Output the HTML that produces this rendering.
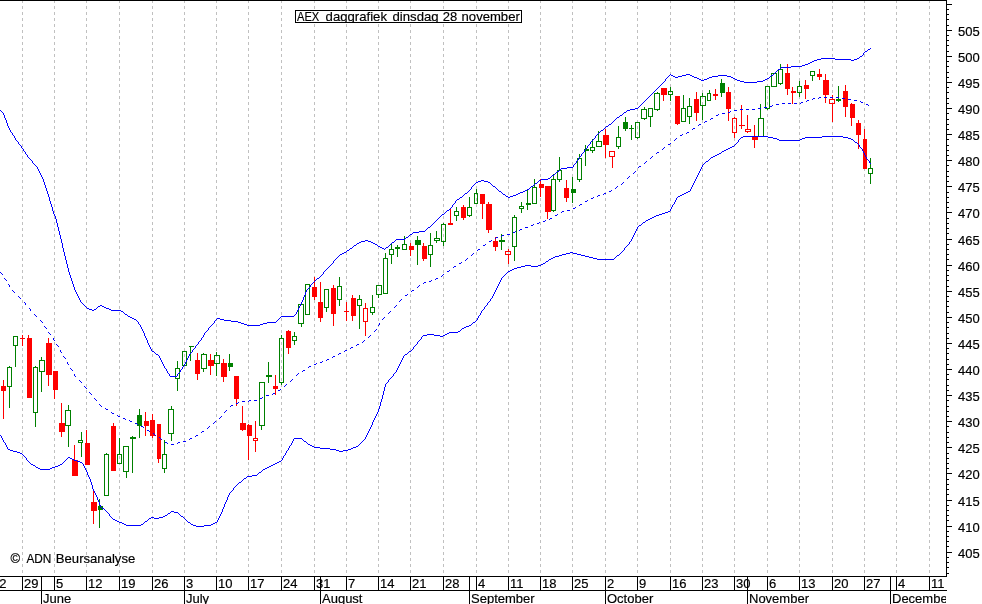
<!DOCTYPE html>
<html lang="nl"><head><meta charset="utf-8"><title>AEX daggrafiek dinsdag 28 november</title>
<style>
html,body{margin:0;padding:0;background:#fff;}
body{width:982px;height:604px;overflow:hidden;}
svg{display:block;}
text{font-family:"Liberation Sans",Arial,sans-serif;font-size:13px;fill:#000;stroke:#000;stroke-width:0.18px;}
</style></head><body>
<svg width="982" height="604" viewBox="0 0 982 604">
<rect x="0" y="0" width="982" height="604" fill="#fff"/>
<g shape-rendering="crispEdges" stroke="#c0c0c0" stroke-width="1" stroke-dasharray="3,3">
<line x1="22.5" y1="0" x2="22.5" y2="576"/>
<line x1="54.5" y1="0" x2="54.5" y2="576"/>
<line x1="86.5" y1="0" x2="86.5" y2="576"/>
<line x1="119.5" y1="0" x2="119.5" y2="576"/>
<line x1="152.5" y1="0" x2="152.5" y2="576"/>
<line x1="184.5" y1="0" x2="184.5" y2="576"/>
<line x1="216.5" y1="0" x2="216.5" y2="576"/>
<line x1="248.5" y1="0" x2="248.5" y2="576"/>
<line x1="281.5" y1="0" x2="281.5" y2="576"/>
<line x1="314.5" y1="0" x2="314.5" y2="576"/>
<line x1="346.5" y1="0" x2="346.5" y2="576"/>
<line x1="378.5" y1="0" x2="378.5" y2="576"/>
<line x1="410.5" y1="0" x2="410.5" y2="576"/>
<line x1="443.5" y1="0" x2="443.5" y2="576"/>
<line x1="476.5" y1="0" x2="476.5" y2="576"/>
<line x1="508.5" y1="0" x2="508.5" y2="576"/>
<line x1="540.5" y1="0" x2="540.5" y2="576"/>
<line x1="572.5" y1="0" x2="572.5" y2="576"/>
<line x1="605.5" y1="0" x2="605.5" y2="576"/>
<line x1="637.5" y1="0" x2="637.5" y2="576"/>
<line x1="670.5" y1="0" x2="670.5" y2="576"/>
<line x1="702.5" y1="0" x2="702.5" y2="576"/>
<line x1="734.5" y1="0" x2="734.5" y2="576"/>
<line x1="767.5" y1="0" x2="767.5" y2="576"/>
<line x1="799.5" y1="0" x2="799.5" y2="576"/>
<line x1="832.5" y1="0" x2="832.5" y2="576"/>
<line x1="864.5" y1="0" x2="864.5" y2="576"/>
<line x1="896.5" y1="0" x2="896.5" y2="576"/>
<line x1="929.5" y1="0" x2="929.5" y2="576"/>
</g>
<g shape-rendering="crispEdges">
<rect x="3" y="380" width="1" height="39" fill="#ff0000"/>
<rect x="1" y="386" width="5" height="5" fill="#ff0000"/>
<path fill="#008000" fill-rule="evenodd" d="M9 366h1v1h-1zM9 387h1v21h-1zM7 367h5v20h-5zM8 368h3v18h-3z"/>
<path fill="#008000" fill-rule="evenodd" d="M15 346h1v21h-1zM13 336h5v10h-5zM14 337h3v8h-3z"/>
<rect x="22" y="335" width="1" height="11" fill="#ff0000"/>
<rect x="20" y="338" width="5" height="1" fill="#ff0000"/>
<rect x="28" y="335" width="1" height="63" fill="#ff0000"/>
<rect x="27" y="338" width="5" height="60" fill="#ff0000"/>
<path fill="#008000" fill-rule="evenodd" d="M35 366h1v1h-1zM35 413h1v14h-1zM33 367h5v46h-5zM34 368h3v44h-3z"/>
<path fill="#008000" fill-rule="evenodd" d="M41 357h1v3h-1zM41 372h1v20h-1zM39 360h6v12h-6zM40 361h4v10h-4z"/>
<rect x="48" y="338" width="1" height="48" fill="#ff0000"/>
<rect x="46" y="343" width="6" height="32" fill="#ff0000"/>
<rect x="54" y="371" width="1" height="28" fill="#ff0000"/>
<rect x="53" y="371" width="5" height="19" fill="#ff0000"/>
<rect x="61" y="403" width="1" height="34" fill="#ff0000"/>
<rect x="59" y="423" width="6" height="9" fill="#ff0000"/>
<path fill="#008000" fill-rule="evenodd" d="M68 405h1v5h-1zM68 426h1v21h-1zM65 410h6v16h-6zM66 411h4v14h-4z"/>
<rect x="74" y="445" width="1" height="31" fill="#ff0000"/>
<rect x="72" y="460" width="6" height="16" fill="#ff0000"/>
<path fill="#008000" fill-rule="evenodd" d="M81 432h1v8h-1zM81 443h1v14h-1zM78 440h5v3h-5zM79 441h3v1h-3z"/>
<rect x="86" y="430" width="1" height="35" fill="#ff0000"/>
<rect x="85" y="443" width="5" height="22" fill="#ff0000"/>
<rect x="93" y="491" width="1" height="33" fill="#ff0000"/>
<rect x="91" y="502" width="6" height="9" fill="#ff0000"/>
<rect x="99" y="499" width="1" height="29" fill="#008000"/>
<rect x="98" y="506" width="5" height="4" fill="#008000"/>
<path fill="#008000" fill-rule="evenodd" d="M106 453h1v1h-1zM104 454h5v42h-5zM105 455h3v40h-3z"/>
<rect x="113" y="423" width="1" height="48" fill="#ff0000"/>
<rect x="111" y="426" width="5" height="45" fill="#ff0000"/>
<path fill="#008000" fill-rule="evenodd" d="M119 438h1v16h-1zM117 454h5v10h-5zM118 455h3v8h-3z"/>
<path fill="#008000" fill-rule="evenodd" d="M126 472h1v6h-1zM123 446h6v26h-6zM124 447h4v24h-4z"/>
<rect x="132" y="436" width="1" height="37" fill="#008000"/>
<rect x="130" y="437" width="6" height="2" fill="#008000"/>
<rect x="139" y="409" width="1" height="29" fill="#008000"/>
<rect x="137" y="415" width="5" height="11" fill="#008000"/>
<rect x="145" y="412" width="1" height="24" fill="#ff0000"/>
<rect x="144" y="421" width="5" height="5" fill="#ff0000"/>
<rect x="152" y="414" width="1" height="24" fill="#ff0000"/>
<rect x="150" y="420" width="5" height="16" fill="#ff0000"/>
<rect x="158" y="424" width="1" height="39" fill="#ff0000"/>
<rect x="157" y="424" width="4" height="35" fill="#ff0000"/>
<path fill="#008000" fill-rule="evenodd" d="M164 440h1v14h-1zM164 469h1v4h-1zM162 454h5v15h-5zM163 455h3v13h-3z"/>
<path fill="#008000" fill-rule="evenodd" d="M171 406h1v3h-1zM171 434h1v7h-1zM168 409h6v25h-6zM169 410h4v23h-4z"/>
<path fill="#008000" fill-rule="evenodd" d="M177 361h1v7h-1zM177 379h1v12h-1zM175 368h5v11h-5zM176 369h3v9h-3z"/>
<path fill="#008000" fill-rule="evenodd" d="M182 351h5v15h-5zM183 352h3v13h-3z"/>
<rect x="190" y="346" width="1" height="15" fill="#008000"/>
<rect x="189" y="346" width="5" height="1" fill="#008000"/>
<rect x="197" y="353" width="1" height="27" fill="#ff0000"/>
<rect x="195" y="360" width="5" height="14" fill="#ff0000"/>
<path fill="#008000" fill-rule="evenodd" d="M203 353h1v1h-1zM203 369h1v3h-1zM201 354h6v15h-6zM202 355h4v13h-4z"/>
<rect x="210" y="354" width="1" height="21" fill="#ff0000"/>
<rect x="208" y="360" width="6" height="6" fill="#ff0000"/>
<path fill="#008000" fill-rule="evenodd" d="M216 352h1v3h-1zM216 364h1v12h-1zM214 355h6v9h-6zM215 356h4v7h-4z"/>
<rect x="223" y="359" width="1" height="23" fill="#ff0000"/>
<rect x="221" y="363" width="6" height="14" fill="#ff0000"/>
<rect x="229" y="354" width="1" height="17" fill="#008000"/>
<rect x="228" y="363" width="5" height="4" fill="#008000"/>
<rect x="236" y="376" width="1" height="30" fill="#ff0000"/>
<rect x="234" y="376" width="5" height="23" fill="#ff0000"/>
<rect x="242" y="406" width="1" height="25" fill="#ff0000"/>
<rect x="240" y="423" width="6" height="7" fill="#ff0000"/>
<rect x="248" y="424" width="1" height="36" fill="#ff0000"/>
<rect x="247" y="425" width="5" height="11" fill="#ff0000"/>
<path fill="#ff0000" fill-rule="evenodd" d="M255 421h1v17h-1zM255 441h1v11h-1zM253 438h5v3h-5zM254 439h3v1h-3z"/>
<path fill="#008000" fill-rule="evenodd" d="M261 426h1v4h-1zM259 382h6v44h-6zM260 383h4v42h-4z"/>
<rect x="268" y="362" width="1" height="21" fill="#008000"/>
<rect x="266" y="375" width="6" height="2" fill="#008000"/>
<rect x="275" y="375" width="1" height="20" fill="#ff0000"/>
<rect x="273" y="386" width="5" height="3" fill="#ff0000"/>
<path fill="#008000" fill-rule="evenodd" d="M281 335h1v3h-1zM281 383h1v2h-1zM279 338h5v45h-5zM280 339h3v43h-3z"/>
<rect x="288" y="330" width="1" height="24" fill="#ff0000"/>
<rect x="286" y="331" width="5" height="17" fill="#ff0000"/>
<path fill="#008000" fill-rule="evenodd" d="M294 332h1v4h-1zM294 341h1v4h-1zM292 336h5v5h-5zM293 337h3v3h-3z"/>
<path fill="#008000" fill-rule="evenodd" d="M301 324h1v3h-1zM298 304h6v20h-6zM299 305h4v18h-4z"/>
<path fill="#008000" fill-rule="evenodd" d="M305 284h5v31h-5zM306 285h3v29h-3z"/>
<rect x="314" y="277" width="1" height="23" fill="#ff0000"/>
<rect x="312" y="287" width="5" height="10" fill="#ff0000"/>
<rect x="320" y="282" width="1" height="40" fill="#ff0000"/>
<rect x="318" y="302" width="5" height="16" fill="#ff0000"/>
<path fill="#008000" fill-rule="evenodd" d="M326 308h1v4h-1zM324 289h5v19h-5zM325 290h3v17h-3z"/>
<rect x="333" y="285" width="1" height="41" fill="#ff0000"/>
<rect x="331" y="288" width="5" height="26" fill="#ff0000"/>
<path fill="#008000" fill-rule="evenodd" d="M339 277h1v9h-1zM339 300h1v6h-1zM337 286h5v14h-5zM338 287h3v12h-3z"/>
<rect x="346" y="302" width="1" height="19" fill="#ff0000"/>
<rect x="344" y="311" width="5" height="1" fill="#ff0000"/>
<rect x="352" y="295" width="1" height="26" fill="#ff0000"/>
<rect x="351" y="298" width="5" height="18" fill="#ff0000"/>
<path fill="#008000" fill-rule="evenodd" d="M359 295h1v4h-1zM359 306h1v23h-1zM357 299h5v7h-5zM358 300h3v5h-3z"/>
<path fill="#ff0000" fill-rule="evenodd" d="M365 303h1v5h-1zM365 322h1v14h-1zM363 308h5v14h-5zM364 309h3v12h-3z"/>
<path fill="#008000" fill-rule="evenodd" d="M372 295h1v12h-1zM372 313h1v2h-1zM370 307h5v6h-5zM371 308h3v4h-3z"/>
<path fill="#008000" fill-rule="evenodd" d="M378 295h1v3h-1zM376 285h6v10h-6zM377 286h4v8h-4z"/>
<path fill="#008000" fill-rule="evenodd" d="M385 253h1v5h-1zM383 258h5v36h-5zM384 259h3v34h-3z"/>
<path fill="#008000" fill-rule="evenodd" d="M391 244h1v5h-1zM391 255h1v9h-1zM389 249h5v6h-5zM390 250h3v4h-3z"/>
<rect x="397" y="245" width="1" height="12" fill="#008000"/>
<rect x="395" y="247" width="5" height="2" fill="#008000"/>
<path fill="#008000" fill-rule="evenodd" d="M404 236h1v8h-1zM402 244h5v6h-5zM403 245h3v4h-3z"/>
<rect x="410" y="243" width="1" height="13" fill="#ff0000"/>
<rect x="409" y="246" width="5" height="4" fill="#ff0000"/>
<rect x="417" y="236" width="1" height="29" fill="#008000"/>
<rect x="415" y="240" width="6" height="5" fill="#008000"/>
<rect x="423" y="243" width="1" height="18" fill="#ff0000"/>
<rect x="422" y="246" width="5" height="13" fill="#ff0000"/>
<path fill="#008000" fill-rule="evenodd" d="M430 233h1v12h-1zM430 255h1v12h-1zM428 245h5v10h-5zM429 246h3v8h-3z"/>
<path fill="#008000" fill-rule="evenodd" d="M436 231h1v7h-1zM436 241h1v2h-1zM434 238h6v3h-6zM435 239h4v1h-4z"/>
<path fill="#008000" fill-rule="evenodd" d="M443 223h1v1h-1zM443 242h1v4h-1zM441 224h5v18h-5zM442 225h3v16h-3z"/>
<rect x="450" y="208" width="1" height="17" fill="#ff0000"/>
<rect x="448" y="223" width="5" height="2" fill="#ff0000"/>
<path fill="#008000" fill-rule="evenodd" d="M456 207h1v4h-1zM456 216h1v5h-1zM454 211h5v5h-5zM455 212h3v3h-3z"/>
<rect x="463" y="205" width="1" height="15" fill="#ff0000"/>
<rect x="461" y="207" width="5" height="11" fill="#ff0000"/>
<path fill="#008000" fill-rule="evenodd" d="M469 197h1v10h-1zM469 216h1v1h-1zM467 207h5v9h-5zM468 208h3v7h-3z"/>
<path fill="#008000" fill-rule="evenodd" d="M476 189h1v4h-1zM474 193h4v11h-4zM475 194h2v9h-2z"/>
<rect x="482" y="194" width="1" height="25" fill="#ff0000"/>
<rect x="480" y="194" width="5" height="10" fill="#ff0000"/>
<rect x="488" y="202" width="1" height="31" fill="#ff0000"/>
<rect x="486" y="204" width="6" height="26" fill="#ff0000"/>
<rect x="495" y="237" width="1" height="14" fill="#ff0000"/>
<rect x="493" y="241" width="5" height="6" fill="#ff0000"/>
<rect x="501" y="234" width="1" height="16" fill="#008000"/>
<rect x="499" y="240" width="6" height="2" fill="#008000"/>
<path fill="#ff0000" fill-rule="evenodd" d="M508 249h1v2h-1zM508 255h1v9h-1zM505 251h6v4h-6zM506 252h4v2h-4z"/>
<path fill="#008000" fill-rule="evenodd" d="M514 215h1v2h-1zM514 247h1v14h-1zM512 217h5v30h-5zM513 218h3v28h-3z"/>
<path fill="#008000" fill-rule="evenodd" d="M521 202h1v4h-1zM521 209h1v4h-1zM519 206h5v3h-5zM520 207h3v1h-3z"/>
<rect x="527" y="189" width="1" height="21" fill="#008000"/>
<rect x="526" y="203" width="5" height="2" fill="#008000"/>
<path fill="#008000" fill-rule="evenodd" d="M534 179h1v8h-1zM532 187h5v17h-5zM533 188h3v15h-3z"/>
<rect x="540" y="179" width="1" height="18" fill="#ff0000"/>
<rect x="539" y="184" width="5" height="4" fill="#ff0000"/>
<rect x="547" y="186" width="1" height="33" fill="#ff0000"/>
<rect x="545" y="186" width="6" height="26" fill="#ff0000"/>
<path fill="#008000" fill-rule="evenodd" d="M553 174h1v5h-1zM553 211h1v1h-1zM551 179h5v32h-5zM552 180h3v30h-3z"/>
<path fill="#008000" fill-rule="evenodd" d="M559 157h1v13h-1zM559 180h1v2h-1zM557 170h5v10h-5zM558 171h3v8h-3z"/>
<rect x="566" y="180" width="1" height="22" fill="#ff0000"/>
<rect x="564" y="188" width="5" height="10" fill="#ff0000"/>
<rect x="572" y="177" width="1" height="26" fill="#008000"/>
<rect x="571" y="189" width="5" height="4" fill="#008000"/>
<path fill="#008000" fill-rule="evenodd" d="M579 154h1v4h-1zM579 180h1v2h-1zM577 158h5v22h-5zM578 159h3v20h-3z"/>
<rect x="585" y="145" width="1" height="21" fill="#008000"/>
<rect x="584" y="149" width="5" height="2" fill="#008000"/>
<path fill="#008000" fill-rule="evenodd" d="M592 139h1v8h-1zM592 151h1v2h-1zM590 147h5v4h-5zM591 148h3v2h-3z"/>
<path fill="#008000" fill-rule="evenodd" d="M598 131h1v10h-1zM596 141h6v6h-6zM597 142h4v4h-4z"/>
<rect x="605" y="129" width="1" height="29" fill="#ff0000"/>
<rect x="603" y="135" width="6" height="10" fill="#ff0000"/>
<path fill="#ff0000" fill-rule="evenodd" d="M612 157h1v11h-1zM609 151h6v6h-6zM610 152h4v4h-4z"/>
<path fill="#008000" fill-rule="evenodd" d="M618 126h1v11h-1zM618 147h1v2h-1zM616 137h5v10h-5zM617 138h3v8h-3z"/>
<rect x="625" y="117" width="1" height="14" fill="#008000"/>
<rect x="623" y="122" width="5" height="7" fill="#008000"/>
<rect x="631" y="125" width="1" height="15" fill="#008000"/>
<rect x="629" y="128" width="5" height="1" fill="#008000"/>
<path fill="#008000" fill-rule="evenodd" d="M637 138h1v1h-1zM635 122h5v16h-5zM636 123h3v14h-3z"/>
<path fill="#008000" fill-rule="evenodd" d="M644 107h1v2h-1zM644 119h1v1h-1zM641 109h6v10h-6zM642 110h4v8h-4z"/>
<path fill="#008000" fill-rule="evenodd" d="M650 117h1v10h-1zM648 108h5v9h-5zM649 109h3v7h-3z"/>
<path fill="#008000" fill-rule="evenodd" d="M657 92h1v1h-1zM657 110h1v1h-1zM654 93h6v17h-6zM655 94h4v15h-4z"/>
<rect x="663" y="88" width="1" height="13" fill="#ff0000"/>
<rect x="661" y="88" width="6" height="7" fill="#ff0000"/>
<path fill="#008000" fill-rule="evenodd" d="M670 87h1v4h-1zM670 95h1v6h-1zM668 91h5v4h-5zM669 92h3v2h-3z"/>
<rect x="677" y="96" width="1" height="29" fill="#ff0000"/>
<rect x="675" y="96" width="5" height="28" fill="#ff0000"/>
<path fill="#008000" fill-rule="evenodd" d="M683 95h1v13h-1zM681 108h5v14h-5zM682 109h3v12h-3z"/>
<path fill="#008000" fill-rule="evenodd" d="M689 98h1v8h-1zM689 117h1v7h-1zM687 106h5v11h-5zM688 107h3v9h-3z"/>
<rect x="696" y="92" width="1" height="29" fill="#ff0000"/>
<rect x="694" y="99" width="5" height="14" fill="#ff0000"/>
<path fill="#008000" fill-rule="evenodd" d="M702 93h1v3h-1zM702 106h1v14h-1zM700 96h6v10h-6zM701 97h4v8h-4z"/>
<path fill="#008000" fill-rule="evenodd" d="M709 90h1v3h-1zM707 93h4v8h-4zM708 94h2v6h-2z"/>
<rect x="715" y="89" width="1" height="11" fill="#ff0000"/>
<rect x="713" y="94" width="5" height="2" fill="#ff0000"/>
<rect x="721" y="79" width="1" height="18" fill="#008000"/>
<rect x="720" y="83" width="5" height="10" fill="#008000"/>
<rect x="728" y="87" width="1" height="34" fill="#ff0000"/>
<rect x="726" y="92" width="5" height="17" fill="#ff0000"/>
<path fill="#ff0000" fill-rule="evenodd" d="M734 117h1v1h-1zM734 133h1v5h-1zM732 118h5v15h-5zM733 119h3v13h-3z"/>
<rect x="741" y="105" width="1" height="24" fill="#ff0000"/>
<rect x="739" y="125" width="6" height="1" fill="#ff0000"/>
<path fill="#ff0000" fill-rule="evenodd" d="M747 115h1v14h-1zM747 132h1v1h-1zM745 129h6v3h-6zM746 130h4v1h-4z"/>
<rect x="754" y="125" width="1" height="23" fill="#ff0000"/>
<rect x="752" y="136" width="6" height="4" fill="#ff0000"/>
<path fill="#008000" fill-rule="evenodd" d="M760 104h1v14h-1zM758 118h6v19h-6zM759 119h4v17h-4z"/>
<path fill="#008000" fill-rule="evenodd" d="M767 109h1v1h-1zM765 86h5v23h-5zM766 87h3v21h-3z"/>
<path fill="#008000" fill-rule="evenodd" d="M771 73h6v14h-6zM772 74h4v12h-4z"/>
<path fill="#008000" fill-rule="evenodd" d="M780 64h1v5h-1zM780 84h1v1h-1zM778 69h5v15h-5zM779 70h3v13h-3z"/>
<rect x="787" y="64" width="1" height="31" fill="#ff0000"/>
<rect x="785" y="73" width="5" height="16" fill="#ff0000"/>
<rect x="792" y="87" width="1" height="17" fill="#ff0000"/>
<rect x="791" y="91" width="5" height="2" fill="#ff0000"/>
<path fill="#008000" fill-rule="evenodd" d="M799 81h1v5h-1zM799 93h1v4h-1zM797 86h5v7h-5zM798 87h3v5h-3z"/>
<rect x="805" y="80" width="1" height="19" fill="#ff0000"/>
<rect x="804" y="85" width="5" height="4" fill="#ff0000"/>
<path fill="#008000" fill-rule="evenodd" d="M812 76h1v5h-1zM810 71h5v5h-5zM811 72h3v3h-3z"/>
<rect x="819" y="69" width="1" height="11" fill="#ff0000"/>
<rect x="817" y="74" width="5" height="3" fill="#ff0000"/>
<rect x="825" y="74" width="1" height="29" fill="#ff0000"/>
<rect x="823" y="80" width="6" height="15" fill="#ff0000"/>
<path fill="#ff0000" fill-rule="evenodd" d="M832 95h1v4h-1zM832 104h1v18h-1zM829 99h6v5h-6zM830 100h4v3h-4z"/>
<rect x="838" y="86" width="1" height="16" fill="#008000"/>
<rect x="836" y="99" width="5" height="2" fill="#008000"/>
<rect x="845" y="85" width="1" height="32" fill="#ff0000"/>
<rect x="843" y="91" width="5" height="16" fill="#ff0000"/>
<rect x="851" y="103" width="1" height="23" fill="#ff0000"/>
<rect x="850" y="104" width="5" height="14" fill="#ff0000"/>
<rect x="858" y="120" width="1" height="29" fill="#ff0000"/>
<rect x="856" y="123" width="5" height="12" fill="#ff0000"/>
<rect x="864" y="129" width="1" height="40" fill="#ff0000"/>
<rect x="863" y="139" width="4" height="30" fill="#ff0000"/>
<path fill="#008000" fill-rule="evenodd" d="M870 158h1v10h-1zM870 174h1v10h-1zM868 168h5v6h-5zM869 169h3v4h-3z"/>
</g>
<g fill="#0000ff" shape-rendering="crispEdges">
<path d="M3 113h1v2h-1zM4 115h1v3h-1zM5 118h1v2h-1zM6 120h1v3h-1zM7 123h1v3h-1zM8 126h1v2h-1zM9 128h1v2h-1zM10 130h1v2h-1zM12 133h1v2h-1zM14 136h1v2h-1zM15 138h1v2h-1zM18 142h1v2h-1zM21 146h1v2h-1zM23 149h1v2h-1zM25 152h1v2h-1zM27 155h1v2h-1zM32 161h1v2h-1zM37 167h1v2h-1zM38 169h1v2h-1zM39 171h1v2h-1zM40 173h1v2h-1zM41 175h1v2h-1zM42 177h1v2h-1zM43 179h1v3h-1zM44 182h1v3h-1zM45 185h1v3h-1zM46 188h1v3h-1zM47 191h1v3h-1zM48 194h1v3h-1zM49 197h1v4h-1zM50 201h1v3h-1zM51 204h1v3h-1zM52 207h1v4h-1zM53 211h1v3h-1zM54 214h1v2h-1zM55 216h1v3h-1zM56 219h1v4h-1zM57 223h1v4h-1zM58 227h1v4h-1zM59 231h1v4h-1zM60 235h1v4h-1zM61 239h1v4h-1zM62 243h1v5h-1zM63 248h1v4h-1zM64 252h1v4h-1zM65 256h1v4h-1zM66 260h1v4h-1zM67 264h1v4h-1zM68 268h1v4h-1zM69 272h1v3h-1zM70 275h1v3h-1zM71 278h1v3h-1zM72 281h1v3h-1zM73 284h1v3h-1zM74 287h1v3h-1zM75 290h1v2h-1zM76 292h1v2h-1zM77 294h1v2h-1zM78 296h1v2h-1zM79 298h1v2h-1zM80 300h1v2h-1zM138 322h1v2h-1zM140 325h1v2h-1zM141 327h1v2h-1zM142 329h1v2h-1zM143 331h1v2h-1zM144 333h1v3h-1zM145 336h1v2h-1zM146 338h1v2h-1zM147 340h1v3h-1zM148 343h1v2h-1zM149 345h1v2h-1zM150 347h1v2h-1zM151 349h1v2h-1zM159 356h1v2h-1zM160 358h1v2h-1zM161 360h1v2h-1zM162 362h1v2h-1zM163 364h1v2h-1zM164 366h1v2h-1zM166 369h1v2h-1zM167 371h1v2h-1zM169 374h1v2h-1zM177 374h1v2h-1zM180 370h1v2h-1zM182 367h1v2h-1zM184 364h1v2h-1zM185 362h1v2h-1zM186 360h1v2h-1zM187 358h1v2h-1zM188 356h1v2h-1zM189 354h1v2h-1zM192 350h1v2h-1zM195 346h1v2h-1zM198 342h1v2h-1zM201 338h1v2h-1zM203 335h1v2h-1zM204 333h1v2h-1zM208 328h1v2h-1zM214 321h1v2h-1zM296 312h1v2h-1zM297 310h1v2h-1zM298 308h1v2h-1zM299 306h1v2h-1zM300 304h1v2h-1zM301 302h1v2h-1zM302 300h1v2h-1zM303 297h1v3h-1zM304 295h1v2h-1zM305 292h1v3h-1zM306 290h1v2h-1zM310 285h1v2h-1zM323 272h1v2h-1zM333 261h1v2h-1zM452 205h1v2h-1zM455 201h1v2h-1zM471 187h1v2h-1zM573 165h1v2h-1zM576 161h1v2h-1zM578 158h1v2h-1zM581 154h1v2h-1zM584 150h1v2h-1zM587 146h1v2h-1zM590 142h1v2h-1zM595 136h1v2h-1zM665 79h1v2h-1zM863 53h1v2h-1zM870 48h1v1h-1zM868 49h2v1h-2zM867 50h1v1h-1zM865 51h2v1h-2zM864 52h1v1h-1zM862 55h1v1h-1zM860 56h2v1h-2zM859 57h1v1h-1zM821 58h14v1h-14zM857 58h2v1h-2zM817 59h4v1h-4zM835 59h16v1h-16zM854 59h3v1h-3zM814 60h3v1h-3zM851 60h3v1h-3zM812 61h2v1h-2zM810 62h2v1h-2zM808 63h2v1h-2zM805 64h3v1h-3zM802 65h3v1h-3zM791 66h11v1h-11zM781 67h10v1h-10zM780 68h1v1h-1zM778 69h2v1h-2zM777 70h1v1h-1zM776 71h1v1h-1zM775 72h1v1h-1zM774 73h1v1h-1zM670 74h1v1h-1zM686 74h4v1h-4zM773 74h1v1h-1zM669 75h1v1h-1zM671 75h2v1h-2zM682 75h4v1h-4zM690 75h2v1h-2zM718 75h9v1h-9zM771 75h2v1h-2zM668 76h1v1h-1zM673 76h2v1h-2zM678 76h4v1h-4zM692 76h2v1h-2zM712 76h6v1h-6zM727 76h4v1h-4zM770 76h1v1h-1zM667 77h1v1h-1zM675 77h3v1h-3zM694 77h3v1h-3zM709 77h3v1h-3zM731 77h2v1h-2zM769 77h1v1h-1zM666 78h1v1h-1zM697 78h2v1h-2zM707 78h2v1h-2zM733 78h2v1h-2zM767 78h2v1h-2zM699 79h2v1h-2zM704 79h3v1h-3zM735 79h2v1h-2zM765 79h2v1h-2zM701 80h3v1h-3zM737 80h3v1h-3zM763 80h2v1h-2zM664 81h1v1h-1zM740 81h4v1h-4zM757 81h6v1h-6zM663 82h1v1h-1zM744 82h13v1h-13zM662 83h1v1h-1zM661 84h1v1h-1zM660 85h1v1h-1zM659 86h1v1h-1zM658 87h1v1h-1zM657 88h1v1h-1zM656 89h1v1h-1zM655 90h1v1h-1zM654 91h1v1h-1zM653 92h1v1h-1zM652 93h1v1h-1zM651 94h1v1h-1zM650 95h1v1h-1zM649 96h1v1h-1zM648 97h1v1h-1zM647 98h1v1h-1zM646 99h1v1h-1zM645 100h1v1h-1zM644 101h1v1h-1zM643 102h1v1h-1zM642 103h1v1h-1zM641 104h1v1h-1zM640 105h1v1h-1zM639 106h1v1h-1zM638 107h1v1h-1zM635 108h3v1h-3zM630 109h5v1h-5zM0 110h1v1h-1zM627 110h3v1h-3zM1 111h1v1h-1zM626 111h1v1h-1zM2 112h1v1h-1zM624 112h2v1h-2zM623 113h1v1h-1zM622 114h1v1h-1zM620 115h2v1h-2zM619 116h1v1h-1zM617 117h2v1h-2zM616 118h1v1h-1zM615 119h1v1h-1zM614 120h1v1h-1zM613 121h1v1h-1zM612 122h1v1h-1zM611 123h1v1h-1zM609 124h2v1h-2zM608 125h1v1h-1zM606 126h2v1h-2zM605 127h1v1h-1zM604 128h1v1h-1zM603 129h1v1h-1zM601 130h2v1h-2zM600 131h1v1h-1zM11 132h1v1h-1zM599 132h1v1h-1zM598 133h1v1h-1zM597 134h1v1h-1zM13 135h1v1h-1zM596 135h1v1h-1zM594 138h1v1h-1zM593 139h1v1h-1zM16 140h1v1h-1zM592 140h1v1h-1zM17 141h1v1h-1zM591 141h1v1h-1zM19 144h1v1h-1zM589 144h1v1h-1zM20 145h1v1h-1zM588 145h1v1h-1zM22 148h1v1h-1zM586 148h1v1h-1zM585 149h1v1h-1zM24 151h1v1h-1zM583 152h1v1h-1zM582 153h1v1h-1zM26 154h1v1h-1zM580 156h1v1h-1zM28 157h1v1h-1zM579 157h1v1h-1zM29 158h1v1h-1zM30 159h1v1h-1zM31 160h1v1h-1zM577 160h1v1h-1zM33 163h1v1h-1zM575 163h1v1h-1zM34 164h1v1h-1zM574 164h1v1h-1zM35 165h1v1h-1zM36 166h1v1h-1zM567 167h6v1h-6zM561 168h6v1h-6zM560 169h1v1h-1zM559 170h1v1h-1zM557 171h2v1h-2zM556 172h1v1h-1zM555 173h1v1h-1zM554 174h1v1h-1zM552 175h2v1h-2zM551 176h1v1h-1zM550 177h1v1h-1zM548 178h2v1h-2zM541 179h7v1h-7zM481 180h3v1h-3zM539 180h2v1h-2zM478 181h3v1h-3zM484 181h4v1h-4zM538 181h1v1h-1zM476 182h2v1h-2zM488 182h2v1h-2zM537 182h1v1h-1zM475 183h1v1h-1zM490 183h1v1h-1zM535 183h2v1h-2zM474 184h1v1h-1zM491 184h1v1h-1zM534 184h1v1h-1zM473 185h1v1h-1zM492 185h1v1h-1zM533 185h1v1h-1zM472 186h1v1h-1zM493 186h2v1h-2zM531 186h2v1h-2zM495 187h1v1h-1zM530 187h1v1h-1zM496 188h1v1h-1zM529 188h1v1h-1zM470 189h1v1h-1zM497 189h1v1h-1zM527 189h2v1h-2zM469 190h1v1h-1zM498 190h1v1h-1zM525 190h2v1h-2zM468 191h1v1h-1zM499 191h2v1h-2zM523 191h2v1h-2zM467 192h1v1h-1zM501 192h1v1h-1zM520 192h3v1h-3zM465 193h2v1h-2zM502 193h1v1h-1zM518 193h2v1h-2zM464 194h1v1h-1zM503 194h2v1h-2zM516 194h2v1h-2zM463 195h1v1h-1zM505 195h1v1h-1zM513 195h3v1h-3zM462 196h1v1h-1zM506 196h2v1h-2zM510 196h3v1h-3zM460 197h2v1h-2zM508 197h2v1h-2zM459 198h1v1h-1zM457 199h2v1h-2zM456 200h1v1h-1zM454 203h1v1h-1zM453 204h1v1h-1zM451 207h1v1h-1zM450 208h1v1h-1zM449 209h1v1h-1zM447 210h2v1h-2zM446 211h1v1h-1zM445 212h1v1h-1zM444 213h1v1h-1zM442 214h2v1h-2zM441 215h1v1h-1zM440 216h1v1h-1zM439 217h1v1h-1zM438 218h1v1h-1zM437 219h1v1h-1zM436 220h1v1h-1zM435 221h1v1h-1zM434 222h1v1h-1zM433 223h1v1h-1zM432 224h1v1h-1zM431 225h1v1h-1zM430 226h1v1h-1zM428 227h2v1h-2zM427 228h1v1h-1zM426 229h1v1h-1zM425 230h1v1h-1zM419 231h6v1h-6zM413 232h6v1h-6zM412 233h1v1h-1zM410 234h2v1h-2zM409 235h1v1h-1zM408 236h1v1h-1zM406 237h2v1h-2zM405 238h1v1h-1zM396 239h9v1h-9zM365 240h3v1h-3zM395 240h1v1h-1zM361 241h4v1h-4zM368 241h3v1h-3zM394 241h1v1h-1zM359 242h2v1h-2zM371 242h2v1h-2zM392 242h2v1h-2zM357 243h2v1h-2zM373 243h2v1h-2zM391 243h1v1h-1zM356 244h1v1h-1zM375 244h2v1h-2zM390 244h1v1h-1zM354 245h2v1h-2zM377 245h1v1h-1zM389 245h1v1h-1zM353 246h1v1h-1zM378 246h2v1h-2zM388 246h1v1h-1zM352 247h1v1h-1zM380 247h2v1h-2zM386 247h2v1h-2zM350 248h2v1h-2zM382 248h2v1h-2zM385 248h1v1h-1zM349 249h1v1h-1zM384 249h1v1h-1zM347 250h2v1h-2zM346 251h1v1h-1zM344 252h2v1h-2zM342 253h2v1h-2zM340 254h2v1h-2zM339 255h1v1h-1zM338 256h1v1h-1zM337 257h1v1h-1zM336 258h1v1h-1zM335 259h1v1h-1zM334 260h1v1h-1zM332 263h1v1h-1zM331 264h1v1h-1zM330 265h1v1h-1zM329 266h1v1h-1zM328 267h1v1h-1zM327 268h1v1h-1zM326 269h1v1h-1zM325 270h1v1h-1zM324 271h1v1h-1zM322 274h1v1h-1zM321 275h1v1h-1zM320 276h1v1h-1zM319 277h1v1h-1zM317 278h2v1h-2zM316 279h1v1h-1zM315 280h1v1h-1zM314 281h1v1h-1zM313 282h1v1h-1zM312 283h1v1h-1zM311 284h1v1h-1zM309 287h1v1h-1zM308 288h1v1h-1zM307 289h1v1h-1zM81 302h1v1h-1zM82 303h1v1h-1zM83 304h1v1h-1zM84 305h1v1h-1zM100 305h2v1h-2zM85 306h1v1h-1zM98 306h2v1h-2zM102 306h2v1h-2zM86 307h1v1h-1zM97 307h1v1h-1zM104 307h2v1h-2zM87 308h2v1h-2zM96 308h1v1h-1zM106 308h3v1h-3zM89 309h3v1h-3zM94 309h2v1h-2zM109 309h2v1h-2zM92 310h2v1h-2zM111 310h10v1h-10zM121 311h2v1h-2zM123 312h1v1h-1zM124 313h1v1h-1zM125 314h2v1h-2zM295 314h1v1h-1zM127 315h1v1h-1zM294 315h1v1h-1zM128 316h2v1h-2zM281 316h13v1h-13zM130 317h2v1h-2zM280 317h1v1h-1zM132 318h2v1h-2zM217 318h3v1h-3zM279 318h1v1h-1zM134 319h2v1h-2zM216 319h1v1h-1zM220 319h4v1h-4zM278 319h1v1h-1zM136 320h1v1h-1zM215 320h1v1h-1zM224 320h7v1h-7zM277 320h1v1h-1zM137 321h1v1h-1zM231 321h7v1h-7zM276 321h1v1h-1zM238 322h3v1h-3zM267 322h9v1h-9zM213 323h1v1h-1zM241 323h3v1h-3zM263 323h4v1h-4zM139 324h1v1h-1zM212 324h1v1h-1zM244 324h3v1h-3zM260 324h3v1h-3zM211 325h1v1h-1zM247 325h13v1h-13zM210 326h1v1h-1zM209 327h1v1h-1zM207 330h1v1h-1zM206 331h1v1h-1zM205 332h1v1h-1zM202 337h1v1h-1zM200 340h1v1h-1zM199 341h1v1h-1zM197 344h1v1h-1zM196 345h1v1h-1zM194 348h1v1h-1zM193 349h1v1h-1zM152 351h2v1h-2zM154 352h1v1h-1zM191 352h1v1h-1zM155 353h1v1h-1zM190 353h1v1h-1zM156 354h2v1h-2zM158 355h1v1h-1zM183 366h1v1h-1zM165 368h1v1h-1zM181 369h1v1h-1zM179 372h1v1h-1zM168 373h1v1h-1zM178 373h1v1h-1zM170 376h7v1h-7z"/>
<path d="M1 436h1v2h-1zM2 438h1v2h-1zM3 440h1v2h-1zM5 443h1v2h-1zM6 445h1v2h-1zM7 447h1v2h-1zM26 458h1v2h-1zM83 464h1v2h-1zM84 466h1v2h-1zM85 468h1v2h-1zM86 470h1v2h-1zM87 472h1v3h-1zM88 475h1v2h-1zM89 477h1v2h-1zM90 479h1v3h-1zM91 482h1v3h-1zM92 485h1v4h-1zM93 489h1v2h-1zM94 491h1v2h-1zM95 493h1v2h-1zM96 495h1v2h-1zM97 497h1v3h-1zM98 500h1v2h-1zM99 502h1v3h-1zM100 505h1v2h-1zM109 514h1v2h-1zM217 520h1v2h-1zM218 518h1v2h-1zM219 516h1v2h-1zM220 514h1v2h-1zM221 512h1v2h-1zM222 509h1v3h-1zM223 507h1v2h-1zM224 504h1v3h-1zM225 502h1v2h-1zM226 500h1v2h-1zM227 497h1v3h-1zM228 495h1v2h-1zM229 493h1v2h-1zM233 488h1v2h-1zM282 458h1v2h-1zM283 456h1v2h-1zM285 453h1v2h-1zM286 451h1v2h-1zM288 448h1v2h-1zM289 446h1v2h-1zM291 443h1v2h-1zM292 441h1v2h-1zM293 439h1v2h-1zM365 437h1v2h-1zM366 435h1v2h-1zM367 433h1v2h-1zM368 431h1v2h-1zM369 429h1v2h-1zM370 427h1v2h-1zM371 425h1v2h-1zM372 422h1v3h-1zM373 420h1v2h-1zM374 418h1v2h-1zM375 416h1v2h-1zM376 414h1v2h-1zM377 412h1v2h-1zM378 409h1v3h-1zM379 406h1v3h-1zM380 402h1v4h-1zM381 399h1v3h-1zM382 395h1v4h-1zM383 391h1v4h-1zM384 387h1v4h-1zM385 384h1v3h-1zM388 380h1v2h-1zM393 374h1v2h-1zM396 370h1v2h-1zM397 368h1v2h-1zM398 366h1v2h-1zM399 364h1v2h-1zM400 362h1v2h-1zM401 360h1v2h-1zM402 358h1v2h-1zM403 356h1v2h-1zM413 347h1v2h-1zM417 342h1v2h-1zM421 337h1v2h-1zM477 318h1v2h-1zM478 316h1v2h-1zM480 313h1v2h-1zM481 311h1v2h-1zM484 307h1v2h-1zM487 303h1v2h-1zM490 299h1v2h-1zM492 296h1v2h-1zM493 294h1v2h-1zM494 292h1v2h-1zM495 290h1v2h-1zM496 288h1v2h-1zM497 286h1v2h-1zM498 284h1v2h-1zM499 282h1v2h-1zM500 280h1v2h-1zM501 278h1v2h-1zM624 248h1v2h-1zM629 242h1v2h-1zM631 239h1v2h-1zM632 237h1v2h-1zM633 235h1v2h-1zM634 233h1v2h-1zM635 231h1v2h-1zM636 229h1v2h-1zM637 227h1v2h-1zM670 209h1v2h-1zM671 207h1v2h-1zM672 205h1v2h-1zM674 202h1v2h-1zM675 200h1v2h-1zM676 198h1v2h-1zM690 189h1v2h-1zM691 187h1v2h-1zM692 185h1v2h-1zM693 183h1v2h-1zM694 181h1v2h-1zM695 179h1v2h-1zM696 177h1v2h-1zM697 175h1v2h-1zM698 173h1v2h-1zM699 171h1v2h-1zM700 169h1v2h-1zM701 167h1v2h-1zM702 165h1v2h-1zM738 140h1v2h-1zM859 145h1v2h-1zM862 149h1v2h-1zM863 151h1v2h-1zM864 153h1v2h-1zM865 155h1v2h-1zM866 157h1v2h-1zM869 161h1v2h-1zM743 136h25v1h-25zM822 136h21v1h-21zM741 137h2v1h-2zM768 137h5v1h-5zM805 137h17v1h-17zM843 137h5v1h-5zM740 138h1v1h-1zM773 138h4v1h-4zM802 138h3v1h-3zM848 138h3v1h-3zM739 139h1v1h-1zM777 139h2v1h-2zM800 139h2v1h-2zM851 139h2v1h-2zM779 140h21v1h-21zM853 140h1v1h-1zM854 141h1v1h-1zM737 142h1v1h-1zM855 142h2v1h-2zM736 143h1v1h-1zM857 143h1v1h-1zM735 144h1v1h-1zM858 144h1v1h-1zM734 145h1v1h-1zM732 146h2v1h-2zM730 147h2v1h-2zM860 147h1v1h-1zM728 148h2v1h-2zM861 148h1v1h-1zM726 149h2v1h-2zM724 150h2v1h-2zM722 151h2v1h-2zM721 152h1v1h-1zM719 153h2v1h-2zM717 154h2v1h-2zM715 155h2v1h-2zM713 156h2v1h-2zM711 157h2v1h-2zM710 158h1v1h-1zM709 159h1v1h-1zM867 159h1v1h-1zM708 160h1v1h-1zM868 160h1v1h-1zM706 161h2v1h-2zM705 162h1v1h-1zM704 163h1v1h-1zM870 163h1v1h-1zM703 164h1v1h-1zM688 191h2v1h-2zM686 192h2v1h-2zM684 193h2v1h-2zM682 194h2v1h-2zM680 195h2v1h-2zM678 196h2v1h-2zM677 197h1v1h-1zM673 204h1v1h-1zM668 211h2v1h-2zM665 212h3v1h-3zM662 213h3v1h-3zM659 214h3v1h-3zM656 215h3v1h-3zM654 216h2v1h-2zM652 217h2v1h-2zM650 218h2v1h-2zM648 219h2v1h-2zM646 220h2v1h-2zM645 221h1v1h-1zM643 222h2v1h-2zM642 223h1v1h-1zM641 224h1v1h-1zM639 225h2v1h-2zM638 226h1v1h-1zM630 241h1v1h-1zM628 244h1v1h-1zM627 245h1v1h-1zM626 246h1v1h-1zM625 247h1v1h-1zM623 250h1v1h-1zM622 251h1v1h-1zM570 252h3v1h-3zM621 252h1v1h-1zM566 253h4v1h-4zM573 253h4v1h-4zM620 253h1v1h-1zM562 254h4v1h-4zM577 254h4v1h-4zM619 254h1v1h-1zM559 255h3v1h-3zM581 255h4v1h-4zM617 255h2v1h-2zM555 256h4v1h-4zM585 256h4v1h-4zM616 256h1v1h-1zM553 257h2v1h-2zM589 257h4v1h-4zM615 257h1v1h-1zM551 258h2v1h-2zM593 258h4v1h-4zM614 258h1v1h-1zM549 259h2v1h-2zM597 259h17v1h-17zM548 260h1v1h-1zM546 261h2v1h-2zM545 262h1v1h-1zM543 263h2v1h-2zM541 264h2v1h-2zM525 265h6v1h-6zM538 265h3v1h-3zM521 266h4v1h-4zM531 266h7v1h-7zM517 267h4v1h-4zM514 268h3v1h-3zM512 269h2v1h-2zM510 270h2v1h-2zM508 271h2v1h-2zM507 272h1v1h-1zM506 273h1v1h-1zM505 274h1v1h-1zM504 275h1v1h-1zM503 276h1v1h-1zM502 277h1v1h-1zM491 298h1v1h-1zM489 301h1v1h-1zM488 302h1v1h-1zM486 305h1v1h-1zM485 306h1v1h-1zM483 309h1v1h-1zM482 310h1v1h-1zM479 315h1v1h-1zM476 320h1v1h-1zM475 321h1v1h-1zM473 322h2v1h-2zM472 323h1v1h-1zM471 324h1v1h-1zM469 325h2v1h-2zM466 326h3v1h-3zM464 327h2v1h-2zM462 328h2v1h-2zM461 329h1v1h-1zM460 330h1v1h-1zM458 331h2v1h-2zM449 332h9v1h-9zM447 333h2v1h-2zM427 334h7v1h-7zM445 334h2v1h-2zM423 335h4v1h-4zM434 335h6v1h-6zM443 335h2v1h-2zM422 336h1v1h-1zM440 336h3v1h-3zM420 339h1v1h-1zM419 340h1v1h-1zM418 341h1v1h-1zM416 344h1v1h-1zM415 345h1v1h-1zM414 346h1v1h-1zM412 349h1v1h-1zM411 350h1v1h-1zM409 351h2v1h-2zM408 352h1v1h-1zM407 353h1v1h-1zM405 354h2v1h-2zM404 355h1v1h-1zM395 372h1v1h-1zM394 373h1v1h-1zM392 376h1v1h-1zM391 377h1v1h-1zM390 378h1v1h-1zM389 379h1v1h-1zM387 382h1v1h-1zM386 383h1v1h-1zM0 435h1v1h-1zM294 438h8v1h-8zM302 439h1v1h-1zM364 439h1v1h-1zM303 440h1v1h-1zM363 440h1v1h-1zM304 441h2v1h-2zM362 441h1v1h-1zM4 442h1v1h-1zM306 442h1v1h-1zM361 442h1v1h-1zM307 443h1v1h-1zM360 443h1v1h-1zM308 444h2v1h-2zM359 444h1v1h-1zM290 445h1v1h-1zM310 445h2v1h-2zM358 445h1v1h-1zM312 446h2v1h-2zM356 446h2v1h-2zM314 447h6v1h-6zM353 447h3v1h-3zM320 448h10v1h-10zM351 448h2v1h-2zM8 449h2v1h-2zM330 449h6v1h-6zM348 449h3v1h-3zM10 450h3v1h-3zM287 450h1v1h-1zM336 450h3v1h-3zM343 450h5v1h-5zM13 451h4v1h-4zM339 451h4v1h-4zM17 452h3v1h-3zM20 453h2v1h-2zM22 454h1v1h-1zM23 455h1v1h-1zM284 455h1v1h-1zM24 456h1v1h-1zM25 457h1v1h-1zM68 457h2v1h-2zM67 458h1v1h-1zM70 458h2v1h-2zM66 459h1v1h-1zM72 459h2v1h-2zM27 460h1v1h-1zM65 460h1v1h-1zM74 460h3v1h-3zM281 460h1v1h-1zM28 461h1v1h-1zM64 461h1v1h-1zM77 461h3v1h-3zM279 461h2v1h-2zM29 462h1v1h-1zM63 462h1v1h-1zM80 462h2v1h-2zM277 462h2v1h-2zM30 463h1v1h-1zM62 463h1v1h-1zM82 463h1v1h-1zM275 463h2v1h-2zM31 464h2v1h-2zM60 464h2v1h-2zM273 464h2v1h-2zM33 465h2v1h-2zM58 465h2v1h-2zM271 465h2v1h-2zM35 466h1v1h-1zM55 466h3v1h-3zM269 466h2v1h-2zM36 467h2v1h-2zM52 467h3v1h-3zM267 467h2v1h-2zM38 468h2v1h-2zM50 468h2v1h-2zM265 468h2v1h-2zM40 469h10v1h-10zM263 469h2v1h-2zM262 470h1v1h-1zM261 471h1v1h-1zM259 472h2v1h-2zM258 473h1v1h-1zM257 474h1v1h-1zM252 475h5v1h-5zM247 476h5v1h-5zM246 477h1v1h-1zM244 478h2v1h-2zM243 479h1v1h-1zM242 480h1v1h-1zM241 481h1v1h-1zM239 482h2v1h-2zM238 483h1v1h-1zM237 484h1v1h-1zM236 485h1v1h-1zM235 486h1v1h-1zM234 487h1v1h-1zM232 490h1v1h-1zM231 491h1v1h-1zM230 492h1v1h-1zM101 507h1v1h-1zM102 508h2v1h-2zM104 509h1v1h-1zM105 510h1v1h-1zM106 511h1v1h-1zM171 511h3v1h-3zM107 512h1v1h-1zM170 512h1v1h-1zM174 512h4v1h-4zM108 513h1v1h-1zM168 513h2v1h-2zM178 513h1v1h-1zM167 514h1v1h-1zM179 514h1v1h-1zM165 515h2v1h-2zM180 515h1v1h-1zM110 516h1v1h-1zM163 516h2v1h-2zM181 516h2v1h-2zM111 517h1v1h-1zM151 517h3v1h-3zM159 517h4v1h-4zM183 517h1v1h-1zM112 518h1v1h-1zM149 518h2v1h-2zM154 518h5v1h-5zM184 518h1v1h-1zM113 519h2v1h-2zM148 519h1v1h-1zM185 519h1v1h-1zM115 520h2v1h-2zM147 520h1v1h-1zM186 520h1v1h-1zM117 521h2v1h-2zM145 521h2v1h-2zM187 521h1v1h-1zM119 522h3v1h-3zM144 522h1v1h-1zM188 522h2v1h-2zM215 522h2v1h-2zM122 523h2v1h-2zM143 523h1v1h-1zM190 523h1v1h-1zM213 523h2v1h-2zM124 524h2v1h-2zM141 524h2v1h-2zM191 524h2v1h-2zM211 524h2v1h-2zM126 525h15v1h-15zM193 525h3v1h-3zM204 525h7v1h-7zM196 526h8v1h-8z"/>
<path d="M9 285h1v2h-1zM25 303h1v2h-1zM30 309h1v2h-1zM53 338h1v2h-1zM60 350h1v2h-1zM67 362h1v2h-1zM74 374h1v2h-1zM379 323h1v2h-1zM819 97h2v1h-2zM824 97h3v1h-3zM830 97h3v1h-3zM836 97h3v1h-3zM813 98h2v1h-2zM818 98h1v1h-1zM842 98h3v1h-3zM812 99h1v1h-1zM848 99h3v1h-3zM807 100h2v1h-2zM854 100h3v1h-3zM806 101h1v1h-1zM860 101h1v1h-1zM801 102h2v1h-2zM861 102h2v1h-2zM782 103h3v1h-3zM788 103h3v1h-3zM794 103h3v1h-3zM800 103h1v1h-1zM776 104h3v1h-3zM866 104h2v1h-2zM772 105h1v1h-1zM868 105h1v1h-1zM770 106h2v1h-2zM764 107h3v1h-3zM758 108h3v1h-3zM740 109h3v1h-3zM746 109h3v1h-3zM752 109h3v1h-3zM734 110h3v1h-3zM730 111h1v1h-1zM728 112h2v1h-2zM722 113h3v1h-3zM718 114h1v1h-1zM716 115h2v1h-2zM711 118h2v1h-2zM710 119h1v1h-1zM705 121h2v1h-2zM704 122h1v1h-1zM699 124h2v1h-2zM698 125h1v1h-1zM693 128h2v1h-2zM692 129h1v1h-1zM687 132h2v1h-2zM686 133h1v1h-1zM682 134h1v1h-1zM680 135h2v1h-2zM676 138h1v1h-1zM675 139h1v1h-1zM674 140h1v1h-1zM670 143h1v1h-1zM668 144h2v1h-2zM664 147h1v1h-1zM663 148h1v1h-1zM662 149h1v1h-1zM657 152h2v1h-2zM656 153h1v1h-1zM652 156h1v1h-1zM651 157h1v1h-1zM650 158h1v1h-1zM646 161h1v1h-1zM645 162h1v1h-1zM644 163h1v1h-1zM639 166h2v1h-2zM638 167h1v1h-1zM635 171h1v1h-1zM634 172h1v1h-1zM633 173h1v1h-1zM629 176h1v1h-1zM628 177h1v1h-1zM627 178h1v1h-1zM623 182h1v1h-1zM622 183h1v1h-1zM621 184h1v1h-1zM617 186h1v1h-1zM616 187h1v1h-1zM615 188h1v1h-1zM611 190h1v1h-1zM609 191h2v1h-2zM604 193h2v1h-2zM603 194h1v1h-1zM598 195h2v1h-2zM597 196h1v1h-1zM593 197h1v1h-1zM591 198h2v1h-2zM587 200h1v1h-1zM585 201h2v1h-2zM580 204h2v1h-2zM579 205h1v1h-1zM575 207h1v1h-1zM573 208h2v1h-2zM567 210h3v1h-3zM562 211h2v1h-2zM561 212h1v1h-1zM557 214h1v1h-1zM555 215h2v1h-2zM550 218h2v1h-2zM549 219h1v1h-1zM545 220h1v1h-1zM543 221h2v1h-2zM539 222h1v1h-1zM537 223h2v1h-2zM533 224h1v1h-1zM531 225h2v1h-2zM525 227h3v1h-3zM520 229h2v1h-2zM519 230h1v1h-1zM515 231h1v1h-1zM513 232h2v1h-2zM507 234h3v1h-3zM502 235h2v1h-2zM501 236h1v1h-1zM496 237h2v1h-2zM495 238h1v1h-1zM491 240h1v1h-1zM489 241h2v1h-2zM485 244h1v1h-1zM483 245h2v1h-2zM478 249h2v1h-2zM477 250h1v1h-1zM473 253h1v1h-1zM472 254h1v1h-1zM471 255h1v1h-1zM467 258h1v1h-1zM466 259h1v1h-1zM465 260h1v1h-1zM461 262h1v1h-1zM459 263h2v1h-2zM454 266h2v1h-2zM453 267h1v1h-1zM449 270h1v1h-1zM447 271h2v1h-2zM0 272h1v1h-1zM1 273h1v1h-1zM2 274h1v1h-1zM443 274h1v1h-1zM442 275h1v1h-1zM441 276h1v1h-1zM4 278h1v1h-1zM436 278h2v1h-2zM5 279h1v1h-1zM435 279h1v1h-1zM6 280h1v1h-1zM431 280h1v1h-1zM429 281h2v1h-2zM424 282h2v1h-2zM423 283h1v1h-1zM8 284h1v1h-1zM419 285h1v1h-1zM418 286h1v1h-1zM417 287h1v1h-1zM12 290h1v1h-1zM412 290h2v1h-2zM13 291h1v1h-1zM411 291h1v1h-1zM14 292h1v1h-1zM407 294h1v1h-1zM405 295h2v1h-2zM18 296h1v1h-1zM19 297h1v1h-1zM20 298h1v1h-1zM401 299h1v1h-1zM400 300h1v1h-1zM399 301h1v1h-1zM24 302h1v1h-1zM396 305h1v1h-1zM395 306h1v1h-1zM394 307h1v1h-1zM29 308h1v1h-1zM390 311h1v1h-1zM389 312h1v1h-1zM388 313h1v1h-1zM34 314h1v1h-1zM35 315h1v1h-1zM36 316h1v1h-1zM384 317h1v1h-1zM383 318h1v1h-1zM382 319h1v1h-1zM40 320h1v1h-1zM41 321h1v1h-1zM42 322h1v1h-1zM378 325h1v1h-1zM44 326h1v1h-1zM45 327h1v1h-1zM46 328h1v1h-1zM376 329h1v1h-1zM375 330h1v1h-1zM374 331h1v1h-1zM48 332h1v1h-1zM49 333h1v1h-1zM50 334h1v1h-1zM370 335h1v1h-1zM369 336h1v1h-1zM368 337h1v1h-1zM54 340h1v1h-1zM364 340h1v1h-1zM363 341h1v1h-1zM362 342h1v1h-1zM56 344h1v1h-1zM357 344h2v1h-2zM57 345h1v1h-1zM356 345h1v1h-1zM58 346h1v1h-1zM351 347h2v1h-2zM350 348h1v1h-1zM345 350h2v1h-2zM344 351h1v1h-1zM61 352h1v1h-1zM339 353h2v1h-2zM338 354h1v1h-1zM63 356h1v1h-1zM333 356h2v1h-2zM64 357h1v1h-1zM332 357h1v1h-1zM65 358h1v1h-1zM327 359h2v1h-2zM326 360h1v1h-1zM322 361h1v1h-1zM320 362h2v1h-2zM316 363h1v1h-1zM68 364h1v1h-1zM314 364h2v1h-2zM309 366h2v1h-2zM308 367h1v1h-1zM70 368h1v1h-1zM71 369h1v1h-1zM72 370h1v1h-1zM303 370h2v1h-2zM302 371h1v1h-1zM298 373h1v1h-1zM297 374h1v1h-1zM296 375h1v1h-1zM75 376h1v1h-1zM292 379h1v1h-1zM79 380h1v1h-1zM291 380h1v1h-1zM80 381h1v1h-1zM290 381h1v1h-1zM81 382h1v1h-1zM286 384h1v1h-1zM285 385h1v1h-1zM84 386h1v1h-1zM284 386h1v1h-1zM85 387h1v1h-1zM86 388h1v1h-1zM280 389h1v1h-1zM278 390h2v1h-2zM89 392h1v1h-1zM90 393h1v1h-1zM273 393h2v1h-2zM91 394h1v1h-1zM272 394h1v1h-1zM266 395h3v1h-3zM262 397h1v1h-1zM94 398h1v1h-1zM260 398h2v1h-2zM95 399h1v1h-1zM96 400h1v1h-1zM249 400h2v1h-2zM254 400h3v1h-3zM242 401h3v1h-3zM248 401h1v1h-1zM238 402h1v1h-1zM236 403h2v1h-2zM99 404h1v1h-1zM100 405h1v1h-1zM231 405h2v1h-2zM101 406h1v1h-1zM230 406h1v1h-1zM105 408h1v1h-1zM106 409h2v1h-2zM226 410h1v1h-1zM225 411h1v1h-1zM111 412h1v1h-1zM224 412h1v1h-1zM112 413h2v1h-2zM117 415h1v1h-1zM118 416h2v1h-2zM221 416h1v1h-1zM220 417h1v1h-1zM123 418h2v1h-2zM219 418h1v1h-1zM125 419h1v1h-1zM129 420h1v1h-1zM130 421h2v1h-2zM215 421h1v1h-1zM214 422h1v1h-1zM135 423h2v1h-2zM213 423h1v1h-1zM137 424h1v1h-1zM141 426h2v1h-2zM209 426h1v1h-1zM143 427h1v1h-1zM208 427h1v1h-1zM207 428h1v1h-1zM147 430h2v1h-2zM149 431h1v1h-1zM202 431h2v1h-2zM201 432h1v1h-1zM153 433h1v1h-1zM154 434h1v1h-1zM155 435h1v1h-1zM196 435h2v1h-2zM195 436h1v1h-1zM159 437h1v1h-1zM160 438h1v1h-1zM190 438h2v1h-2zM161 439h1v1h-1zM189 439h1v1h-1zM183 441h3v1h-3zM165 442h2v1h-2zM178 442h2v1h-2zM167 443h1v1h-1zM177 443h1v1h-1zM171 444h3v1h-3z"/>
</g>
<g shape-rendering="crispEdges">
<rect x="295.5" y="10.5" width="226" height="12" fill="#fff" stroke="#000" stroke-width="1"/>
</g>
<clipPath id="ct"><rect x="296" y="11" width="226" height="12"/></clipPath>
<text id="title" clip-path="url(#ct)" y="21" xml:space="preserve"><tspan x="297" textLength="22.3" lengthAdjust="spacingAndGlyphs">AEX</tspan> <tspan x="325.6" textLength="61.4" lengthAdjust="spacingAndGlyphs">daggrafiek</tspan> <tspan x="392.5" textLength="46.1" lengthAdjust="spacingAndGlyphs">dinsdag</tspan> <tspan x="442.8">28</tspan> <tspan x="461.6" textLength="58.2" lengthAdjust="spacingAndGlyphs">november</tspan></text>
<text id="copy" y="563" xml:space="preserve"><tspan x="10.5">©</tspan> <tspan x="26.4" textLength="25" lengthAdjust="spacingAndGlyphs">ADN</tspan> <tspan x="55.8" textLength="79.5" lengthAdjust="spacingAndGlyphs">Beursanalyse</tspan></text>
<g shape-rendering="crispEdges" fill="#000">
<rect x="0" y="0" width="947" height="1"/>
<rect x="946" y="0" width="1" height="577"/>
<rect x="0" y="576" width="947" height="1"/>
<rect x="0" y="590" width="947" height="1"/>
<rect x="947" y="573" width="2" height="1"/>
<rect x="947" y="567" width="2" height="1"/>
<rect x="947" y="562" width="2" height="1"/>
<rect x="947" y="557" width="2" height="1"/>
<rect x="947" y="552" width="5" height="1"/>
<rect x="947" y="546" width="2" height="1"/>
<rect x="947" y="541" width="2" height="1"/>
<rect x="947" y="536" width="2" height="1"/>
<rect x="947" y="531" width="2" height="1"/>
<rect x="947" y="526" width="5" height="1"/>
<rect x="947" y="520" width="2" height="1"/>
<rect x="947" y="515" width="2" height="1"/>
<rect x="947" y="510" width="2" height="1"/>
<rect x="947" y="505" width="2" height="1"/>
<rect x="947" y="500" width="5" height="1"/>
<rect x="947" y="494" width="2" height="1"/>
<rect x="947" y="489" width="2" height="1"/>
<rect x="947" y="484" width="2" height="1"/>
<rect x="947" y="479" width="2" height="1"/>
<rect x="947" y="473" width="5" height="1"/>
<rect x="947" y="468" width="2" height="1"/>
<rect x="947" y="463" width="2" height="1"/>
<rect x="947" y="458" width="2" height="1"/>
<rect x="947" y="453" width="2" height="1"/>
<rect x="947" y="447" width="5" height="1"/>
<rect x="947" y="442" width="2" height="1"/>
<rect x="947" y="437" width="2" height="1"/>
<rect x="947" y="432" width="2" height="1"/>
<rect x="947" y="426" width="2" height="1"/>
<rect x="947" y="421" width="5" height="1"/>
<rect x="947" y="416" width="2" height="1"/>
<rect x="947" y="411" width="2" height="1"/>
<rect x="947" y="406" width="2" height="1"/>
<rect x="947" y="400" width="2" height="1"/>
<rect x="947" y="395" width="5" height="1"/>
<rect x="947" y="390" width="2" height="1"/>
<rect x="947" y="385" width="2" height="1"/>
<rect x="947" y="379" width="2" height="1"/>
<rect x="947" y="374" width="2" height="1"/>
<rect x="947" y="369" width="5" height="1"/>
<rect x="947" y="364" width="2" height="1"/>
<rect x="947" y="359" width="2" height="1"/>
<rect x="947" y="353" width="2" height="1"/>
<rect x="947" y="348" width="2" height="1"/>
<rect x="947" y="343" width="5" height="1"/>
<rect x="947" y="338" width="2" height="1"/>
<rect x="947" y="333" width="2" height="1"/>
<rect x="947" y="327" width="2" height="1"/>
<rect x="947" y="322" width="2" height="1"/>
<rect x="947" y="317" width="5" height="1"/>
<rect x="947" y="312" width="2" height="1"/>
<rect x="947" y="306" width="2" height="1"/>
<rect x="947" y="301" width="2" height="1"/>
<rect x="947" y="296" width="2" height="1"/>
<rect x="947" y="291" width="5" height="1"/>
<rect x="947" y="286" width="2" height="1"/>
<rect x="947" y="280" width="2" height="1"/>
<rect x="947" y="275" width="2" height="1"/>
<rect x="947" y="270" width="2" height="1"/>
<rect x="947" y="265" width="5" height="1"/>
<rect x="947" y="259" width="2" height="1"/>
<rect x="947" y="254" width="2" height="1"/>
<rect x="947" y="249" width="2" height="1"/>
<rect x="947" y="244" width="2" height="1"/>
<rect x="947" y="239" width="5" height="1"/>
<rect x="947" y="233" width="2" height="1"/>
<rect x="947" y="228" width="2" height="1"/>
<rect x="947" y="223" width="2" height="1"/>
<rect x="947" y="218" width="2" height="1"/>
<rect x="947" y="212" width="5" height="1"/>
<rect x="947" y="207" width="2" height="1"/>
<rect x="947" y="202" width="2" height="1"/>
<rect x="947" y="197" width="2" height="1"/>
<rect x="947" y="192" width="2" height="1"/>
<rect x="947" y="186" width="5" height="1"/>
<rect x="947" y="181" width="2" height="1"/>
<rect x="947" y="176" width="2" height="1"/>
<rect x="947" y="171" width="2" height="1"/>
<rect x="947" y="165" width="2" height="1"/>
<rect x="947" y="160" width="5" height="1"/>
<rect x="947" y="155" width="2" height="1"/>
<rect x="947" y="150" width="2" height="1"/>
<rect x="947" y="145" width="2" height="1"/>
<rect x="947" y="139" width="2" height="1"/>
<rect x="947" y="134" width="5" height="1"/>
<rect x="947" y="129" width="2" height="1"/>
<rect x="947" y="124" width="2" height="1"/>
<rect x="947" y="119" width="2" height="1"/>
<rect x="947" y="113" width="2" height="1"/>
<rect x="947" y="108" width="5" height="1"/>
<rect x="947" y="103" width="2" height="1"/>
<rect x="947" y="98" width="2" height="1"/>
<rect x="947" y="92" width="2" height="1"/>
<rect x="947" y="87" width="2" height="1"/>
<rect x="947" y="82" width="5" height="1"/>
<rect x="947" y="77" width="2" height="1"/>
<rect x="947" y="72" width="2" height="1"/>
<rect x="947" y="66" width="2" height="1"/>
<rect x="947" y="61" width="2" height="1"/>
<rect x="947" y="56" width="5" height="1"/>
<rect x="947" y="51" width="2" height="1"/>
<rect x="947" y="45" width="2" height="1"/>
<rect x="947" y="40" width="2" height="1"/>
<rect x="947" y="35" width="2" height="1"/>
<rect x="947" y="30" width="5" height="1"/>
<rect x="947" y="25" width="2" height="1"/>
<rect x="947" y="19" width="2" height="1"/>
<rect x="947" y="14" width="2" height="1"/>
<rect x="947" y="9" width="2" height="1"/>
<rect x="947" y="4" width="5" height="1"/>
<rect x="22" y="576" width="1" height="14"/>
<rect x="54" y="576" width="1" height="14"/>
<rect x="86" y="576" width="1" height="14"/>
<rect x="119" y="576" width="1" height="14"/>
<rect x="152" y="576" width="1" height="14"/>
<rect x="184" y="576" width="1" height="14"/>
<rect x="216" y="576" width="1" height="14"/>
<rect x="248" y="576" width="1" height="14"/>
<rect x="281" y="576" width="1" height="14"/>
<rect x="314" y="576" width="1" height="14"/>
<rect x="346" y="576" width="1" height="14"/>
<rect x="378" y="576" width="1" height="14"/>
<rect x="410" y="576" width="1" height="14"/>
<rect x="443" y="576" width="1" height="14"/>
<rect x="476" y="576" width="1" height="14"/>
<rect x="508" y="576" width="1" height="14"/>
<rect x="540" y="576" width="1" height="14"/>
<rect x="572" y="576" width="1" height="14"/>
<rect x="605" y="576" width="1" height="14"/>
<rect x="637" y="576" width="1" height="14"/>
<rect x="670" y="576" width="1" height="14"/>
<rect x="702" y="576" width="1" height="14"/>
<rect x="734" y="576" width="1" height="14"/>
<rect x="767" y="576" width="1" height="14"/>
<rect x="799" y="576" width="1" height="14"/>
<rect x="832" y="576" width="1" height="14"/>
<rect x="864" y="576" width="1" height="14"/>
<rect x="896" y="576" width="1" height="14"/>
<rect x="929" y="576" width="1" height="14"/>
<rect x="41" y="576" width="1" height="28"/>
<rect x="184" y="576" width="1" height="28"/>
<rect x="320" y="576" width="1" height="28"/>
<rect x="469" y="576" width="1" height="28"/>
<rect x="605" y="576" width="1" height="28"/>
<rect x="747" y="576" width="1" height="28"/>
<rect x="890" y="576" width="1" height="28"/>
</g>
<text x="958" y="558">405</text>
<text x="958" y="532">410</text>
<text x="958" y="506">415</text>
<text x="958" y="479">420</text>
<text x="958" y="453">425</text>
<text x="958" y="427">430</text>
<text x="958" y="401">435</text>
<text x="958" y="375">440</text>
<text x="958" y="349">445</text>
<text x="958" y="323">450</text>
<text x="958" y="297">455</text>
<text x="958" y="271">460</text>
<text x="958" y="245">465</text>
<text x="958" y="218">470</text>
<text x="958" y="192">475</text>
<text x="958" y="166">480</text>
<text x="958" y="140">485</text>
<text x="958" y="114">490</text>
<text x="958" y="88">495</text>
<text x="958" y="62">500</text>
<text x="958" y="36">505</text>
<clipPath id="cb"><rect x="0" y="576" width="946" height="28"/></clipPath>
<g clip-path="url(#cb)">
<text x="-8" y="588">22</text>
<text x="24" y="588">29</text>
<text x="56" y="588">5</text>
<text x="88" y="588">12</text>
<text x="121" y="588">19</text>
<text x="154" y="588">26</text>
<text x="186" y="588">3</text>
<text x="218" y="588">10</text>
<text x="250" y="588">17</text>
<text x="283" y="588">24</text>
<text x="316" y="588">31</text>
<text x="348" y="588">7</text>
<text x="380" y="588">14</text>
<text x="412" y="588">21</text>
<text x="445" y="588">28</text>
<text x="478" y="588">4</text>
<text x="510" y="588">11</text>
<text x="542" y="588">18</text>
<text x="574" y="588">25</text>
<text x="607" y="588">2</text>
<text x="639" y="588">9</text>
<text x="672" y="588">16</text>
<text x="704" y="588">23</text>
<text x="736" y="588">30</text>
<text x="769" y="588">6</text>
<text x="801" y="588">13</text>
<text x="834" y="588">20</text>
<text x="866" y="588">27</text>
<text x="898" y="588">4</text>
<text x="931" y="588">11</text>
<text x="43" y="603">June</text>
<text x="186" y="603">July</text>
<text x="322" y="603">August</text>
<text x="471" y="603">September</text>
<text x="607" y="603">October</text>
<text x="749" y="603">November</text>
<text x="892" y="603">December</text>
</g>
</svg>
</body></html>
